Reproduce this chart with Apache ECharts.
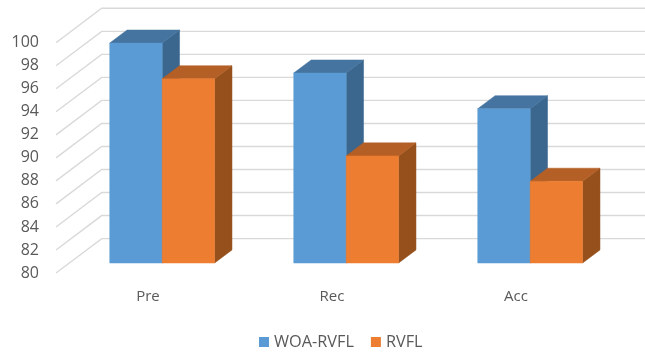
<!DOCTYPE html>
<html>
<head>
<meta charset="utf-8">
<style>html,body{margin:0;padding:0;background:#fff}#chart{width:645px;height:352px}</style>
<script src="https://cdn.jsdelivr.net/npm/echarts@6/dist/echarts.min.js"></script>
</head>
<body>
<div id="chart"></div>
<script>
const categories = ['Pre', 'Rec', 'Acc'];
const woaRvfl = [99.1, 96.5, 93.4];
const rvfl = [96.0, 89.3, 87.1];
const yTicks = [80, 82, 84, 86, 88, 90, 92, 94, 96, 98, 100];

// Oblique projection used for the fake 3D box: depth 1 reaches the back wall.
const DEPTH_DX = 45.7;
const DEPTH_DY = -34.4;
const BAR_DEPTH_START = 0.29;
const BAR_DEPTH_END = 0.67;
const BAR_WIDTH_SHARE = 0.285;
const BAR_CENTER_SHIFT = 0.005;
const Y_BASE = yTicks[0];

function project(api, cat, value, shift, depth) {
  const p = api.coord([cat, value]);
  const band = api.size([1, 0])[0];
  return [p[0] + shift * band + depth * DEPTH_DX, p[1] + depth * DEPTH_DY];
}

function prism(colors, side) {
  return function (params, api) {
    const cat = api.value(0);
    const val = api.value(1);
    const s0 = (side < 0 ? -BAR_WIDTH_SHARE : 0) + BAR_CENTER_SHIFT;
    const s1 = (side < 0 ? 0 : BAR_WIDTH_SHARE) + BAR_CENTER_SHIFT;
    const f = BAR_DEPTH_START;
    const b = BAR_DEPTH_END;
    const poly = (pts, fill) => ({
      type: 'polygon',
      shape: { points: pts },
      style: { fill: fill, stroke: fill, lineWidth: 0.5 }
    });
    return {
      type: 'group',
      children: [
        poly([
          project(api, cat, Y_BASE, s1, f), project(api, cat, Y_BASE, s1, b),
          project(api, cat, val, s1, b), project(api, cat, val, s1, f)
        ], colors.side),
        poly([
          project(api, cat, val, s0, f), project(api, cat, val, s1, f),
          project(api, cat, val, s1, b), project(api, cat, val, s0, b)
        ], colors.top),
        poly([
          project(api, cat, Y_BASE, s0, f), project(api, cat, Y_BASE, s1, f),
          project(api, cat, val, s1, f), project(api, cat, val, s0, f)
        ], colors.front)
      ]
    };
  };
}

// Gridlines run from the front-left corner to the back wall, then across it.
function wallLine(params, api) {
  const value = api.value(1);
  const front = api.coord([0, value]);
  const band = api.size([1, 0])[0];
  const left = front[0] - band / 2;
  const right = left + band * categories.length;
  return {
    type: 'polyline',
    shape: {
      points: [
        [left, front[1]],
        [left + DEPTH_DX, front[1] + DEPTH_DY],
        [right + DEPTH_DX, front[1] + DEPTH_DY]
      ]
    },
    style: { fill: null, stroke: '#d9d9d9', lineWidth: 1.4 }
  };
}

const toPoints = (values) => values.map((v, i) => [i, v]);

const chart = echarts.init(document.getElementById('chart'), null, { renderer: 'canvas' });
chart.setOption({
  animation: false,
  backgroundColor: '#ffffff',
  grid: { left: 56, top: 42.7, width: 552, height: 230.3 },
  legend: {
    left: 254,
    top: 329,
    icon: 'rect',
    itemWidth: 10,
    itemHeight: 10,
    itemGap: 17,
    data: ['WOA-RVFL', 'RVFL'],
    textStyle: { color: '#595959', fontFamily: 'Open Sans', fontSize: 16.3 }
  },
  xAxis: {
    type: 'category',
    data: categories,
    axisLine: { show: false },
    axisTick: { show: false },
    axisLabel: { color: '#595959', fontFamily: 'Open Sans', fontSize: 15, margin: 16 }
  },
  yAxis: {
    type: 'value',
    min: 80,
    max: 100,
    interval: 2,
    axisLine: { show: false },
    axisTick: { show: false },
    splitLine: { show: false },
    axisLabel: { color: '#595959', fontFamily: 'Open Sans', fontSize: 16, margin: 17, padding: [3, 0, 0, 0] }
  },
  series: [
    {
      type: 'custom',
      silent: true,
      renderItem: wallLine,
      encode: { x: 0, y: 1 },
      data: yTicks.map((v) => [0, v]),
      z: 1
    },
    {
      name: 'WOA-RVFL',
      type: 'custom',
      renderItem: prism({ front: '#5b9bd5', top: '#44749f', side: '#3b668e' }, -1),
      encode: { x: 0, y: 1 },
      itemStyle: { color: '#5b9bd5' },
      data: toPoints(woaRvfl),
      z: 2
    },
    {
      name: 'RVFL',
      type: 'custom',
      renderItem: prism({ front: '#ed7d31', top: '#b45f25', side: '#95501c' }, 1),
      encode: { x: 0, y: 1 },
      itemStyle: { color: '#ed7d31' },
      data: toPoints(rvfl),
      z: 3
    }
  ]
});
</script>
</body>
</html>
